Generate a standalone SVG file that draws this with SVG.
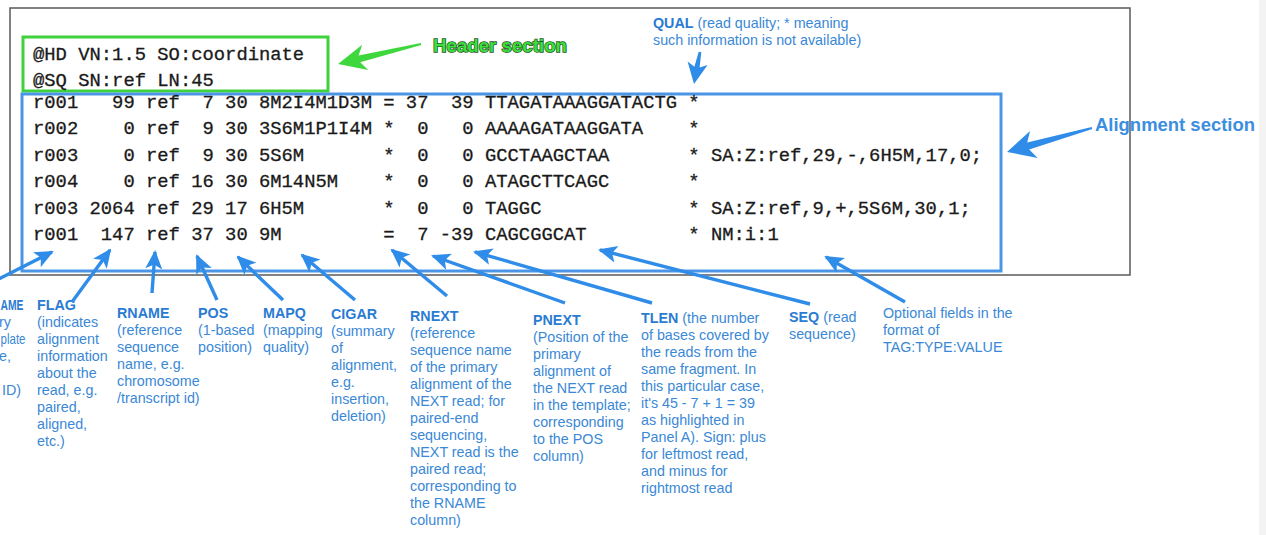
<svg xmlns="http://www.w3.org/2000/svg" width="1266" height="535" viewBox="0 0 1266 535">
<style>
.mono{font-family:"Liberation Mono","DejaVu Sans Mono",monospace;font-size:18.83px;fill:#1a1a1a;stroke:#1a1a1a;stroke-width:0.3;white-space:pre}
.lbl{font-family:"Liberation Sans",Arial,sans-serif;font-size:14.3px;fill:#3a88d6}
.b{font-weight:bold;fill:#2a7bd2}
.conn line{stroke:#2f8ce8;stroke-width:3.4;fill:none}
.big{fill:#2f8ce8}
.bigG{fill:#3fd83c}
</style>
<defs>
<marker id="ah" markerUnits="userSpaceOnUse" markerWidth="19" markerHeight="19" viewBox="0 0 19 19" refX="17" refY="9.5" orient="auto">
<path d="M19,9.5 L0,1 L4.5,9.5 L0,18 Z" fill="#2f8ce8"/>
</marker>
</defs>
<rect width="1266" height="535" fill="#ffffff"/>
<rect x="1259" y="0" width="7" height="535" fill="#f3f3f3"/>
<g id="frame">
<rect x="10" y="8" width="1120" height="267" fill="none" stroke="#5a5a5a" stroke-width="1.5"/>
</g>
<g id="header-box">
<rect x="23" y="37" width="305" height="54" fill="none" stroke="#3fd23c" stroke-width="3"/>
<text class="mono" x="33" y="60" xml:space="preserve">@HD VN:1.5 SO:coordinate</text>
<text class="mono" x="33" y="86" xml:space="preserve">@SQ SN:ref LN:45</text>
</g>
<g id="header-label">
<text x="433" y="52" font-family="Liberation Sans,Arial,sans-serif" font-weight="bold" font-size="17.5" fill="#3be03b" stroke="#1d4f1d" stroke-width="1.4" paint-order="stroke" textLength="134" lengthAdjust="spacingAndGlyphs">Header section</text>
</g>
<g id="alignment-box">
<rect x="22" y="94" width="979" height="177" fill="none" stroke="#4a95e6" stroke-width="3"/>
<text class="mono" x="33" y="108" xml:space="preserve">r001   99 ref  7 30 8M2I4M1D3M = 37  39 TTAGATAAAGGATACTG *</text>
<text class="mono" x="33" y="134.4" xml:space="preserve">r002    0 ref  9 30 3S6M1P1I4M *  0   0 AAAAGATAAGGATA    *</text>
<text class="mono" x="33" y="160.8" xml:space="preserve">r003    0 ref  9 30 5S6M       *  0   0 GCCTAAGCTAA       * SA:Z:ref,29,-,6H5M,17,0;</text>
<text class="mono" x="33" y="187.2" xml:space="preserve">r004    0 ref 16 30 6M14N5M    *  0   0 ATAGCTTCAGC       *</text>
<text class="mono" x="33" y="213.6" xml:space="preserve">r003 2064 ref 29 17 6H5M       *  0   0 TAGGC             * SA:Z:ref,9,+,5S6M,30,1;</text>
<text class="mono" x="33" y="240" xml:space="preserve">r001  147 ref 37 30 9M         =  7 -39 CAGCGGCAT         * NM:i:1</text>
</g>
<g id="alignment-label">
<text x="1095" y="131" font-family="Liberation Sans,Arial,sans-serif" font-weight="bold" font-size="18" fill="#3b8ee0" textLength="160" lengthAdjust="spacingAndGlyphs">Alignment section</text>
</g>
<g id="qual-label">
<text class="lbl" x="653" y="28"><tspan class="b">QUAL</tspan> (read quality; * meaning</text>
<text class="lbl" x="653" y="45">such information is not available)</text>
</g>
<g id="qname-label">
<text class="lbl b" x="0.5" y="310" textLength="23" lengthAdjust="spacingAndGlyphs">AME</text>
<text class="lbl" x="-1" y="327">ry</text>
<text class="lbl" x="0.5" y="344" textLength="25" lengthAdjust="spacingAndGlyphs">plate</text>
<text class="lbl" x="-1" y="361">e,</text>
<text class="lbl" x="2" y="395">ID)</text>
</g>
<g id="flag-label">
<text class="lbl" x="37" y="310"><tspan class="b">FLAG</tspan><tspan x="37" dy="17">(indicates</tspan><tspan x="37" dy="17">alignment</tspan><tspan x="37" dy="17">information</tspan><tspan x="37" dy="17">about the</tspan><tspan x="37" dy="17">read, e.g.</tspan><tspan x="37" dy="17">paired,</tspan><tspan x="37" dy="17">aligned,</tspan><tspan x="37" dy="17">etc.)</tspan></text>
</g>
<g id="rname-label">
<text class="lbl" x="117" y="318"><tspan class="b">RNAME</tspan><tspan x="117" dy="17">(reference</tspan><tspan x="117" dy="17">sequence</tspan><tspan x="117" dy="17">name, e.g.</tspan><tspan x="117" dy="17">chromosome</tspan><tspan x="117" dy="17">/transcript id)</tspan></text>
</g>
<g id="pos-label">
<text class="lbl" x="198" y="318"><tspan class="b">POS</tspan><tspan x="198" dy="17">(1-based</tspan><tspan x="198" dy="17">position)</tspan></text>
</g>
<g id="mapq-label">
<text class="lbl" x="263" y="318"><tspan class="b">MAPQ</tspan><tspan x="263" dy="17">(mapping</tspan><tspan x="263" dy="17">quality)</tspan></text>
</g>
<g id="cigar-label">
<text class="lbl" x="331" y="319"><tspan class="b">CIGAR</tspan><tspan x="331" dy="17">(summary</tspan><tspan x="331" dy="17">of</tspan><tspan x="331" dy="17">alignment,</tspan><tspan x="331" dy="17">e.g.</tspan><tspan x="331" dy="17">insertion,</tspan><tspan x="331" dy="17">deletion)</tspan></text>
</g>
<g id="rnext-label">
<text class="lbl" x="410" y="321"><tspan class="b">RNEXT</tspan><tspan x="410" dy="17">(reference</tspan><tspan x="410" dy="17">sequence name</tspan><tspan x="410" dy="17">of the primary</tspan><tspan x="410" dy="17">alignment of the</tspan><tspan x="410" dy="17">NEXT read; for</tspan><tspan x="410" dy="17">paired-end</tspan><tspan x="410" dy="17">sequencing,</tspan><tspan x="410" dy="17">NEXT read is the</tspan><tspan x="410" dy="17">paired read;</tspan><tspan x="410" dy="17">corresponding to</tspan><tspan x="410" dy="17">the RNAME</tspan><tspan x="410" dy="17">column)</tspan></text>
</g>
<g id="pnext-label">
<text class="lbl" x="533" y="325"><tspan class="b">PNEXT</tspan><tspan x="533" dy="17">(Position of the</tspan><tspan x="533" dy="17">primary</tspan><tspan x="533" dy="17">alignment of</tspan><tspan x="533" dy="17">the NEXT read</tspan><tspan x="533" dy="17">in the template;</tspan><tspan x="533" dy="17">corresponding</tspan><tspan x="533" dy="17">to the POS</tspan><tspan x="533" dy="17">column)</tspan></text>
</g>
<g id="tlen-label">
<text class="lbl" x="641" y="323"><tspan class="b">TLEN</tspan> (the number<tspan x="641" dy="17">of bases covered by</tspan><tspan x="641" dy="17">the reads from the</tspan><tspan x="641" dy="17">same fragment. In</tspan><tspan x="641" dy="17">this particular case,</tspan><tspan x="641" dy="17">it's 45 - 7 + 1 = 39</tspan><tspan x="641" dy="17">as highlighted in</tspan><tspan x="641" dy="17">Panel A). Sign: plus</tspan><tspan x="641" dy="17">for leftmost read,</tspan><tspan x="641" dy="17">and minus for</tspan><tspan x="641" dy="17">rightmost read</tspan></text>
</g>
<g id="seq-label">
<text class="lbl" x="789" y="322"><tspan class="b">SEQ</tspan> (read<tspan x="789" dy="17">sequence)</tspan></text>
</g>
<g id="optional-label">
<text class="lbl" x="883" y="318">Optional fields in the<tspan x="883" dy="17">format of</tspan><tspan x="883" dy="17">TAG:TYPE:VALUE</tspan></text>
</g>
<g id="connectors" class="conn">
<path class="bigG" d="M338,64 L368.2,70 L360.2,62.3 L421.2,45 L420.8,43 L358.6,55.5 L362.2,44.8 Z"/>
<path class="big" d="M1007,152 L1037.7,157.9 L1029.2,149.4 L1092.3,129 L1091.7,127 L1027.2,142.6 L1030.1,130.9 Z"/>
<path class="big" d="M694,84 L707.6,64.9 L699.6,67.6 L701.3,52.2 L698.7,51.8 L694.4,66.8 L687.6,61.5 Z"/>
<line x1="-5" y1="281" x2="52" y2="252" marker-end="url(#ah)"/>
<line x1="72" y1="302" x2="110" y2="250" marker-end="url(#ah)"/>
<line x1="152" y1="293" x2="155" y2="252" marker-end="url(#ah)"/>
<line x1="217" y1="300" x2="197" y2="256" marker-end="url(#ah)"/>
<line x1="283" y1="300" x2="238" y2="257" marker-end="url(#ah)"/>
<line x1="355" y1="300" x2="302" y2="255" marker-end="url(#ah)"/>
<line x1="447" y1="296" x2="392" y2="250" marker-end="url(#ah)"/>
<line x1="565" y1="303" x2="433" y2="256" marker-end="url(#ah)"/>
<line x1="652" y1="303" x2="475" y2="252" marker-end="url(#ah)"/>
<line x1="810" y1="304" x2="600" y2="250" marker-end="url(#ah)"/>
<line x1="905" y1="302" x2="826" y2="257" marker-end="url(#ah)"/>
</g>
</svg>
